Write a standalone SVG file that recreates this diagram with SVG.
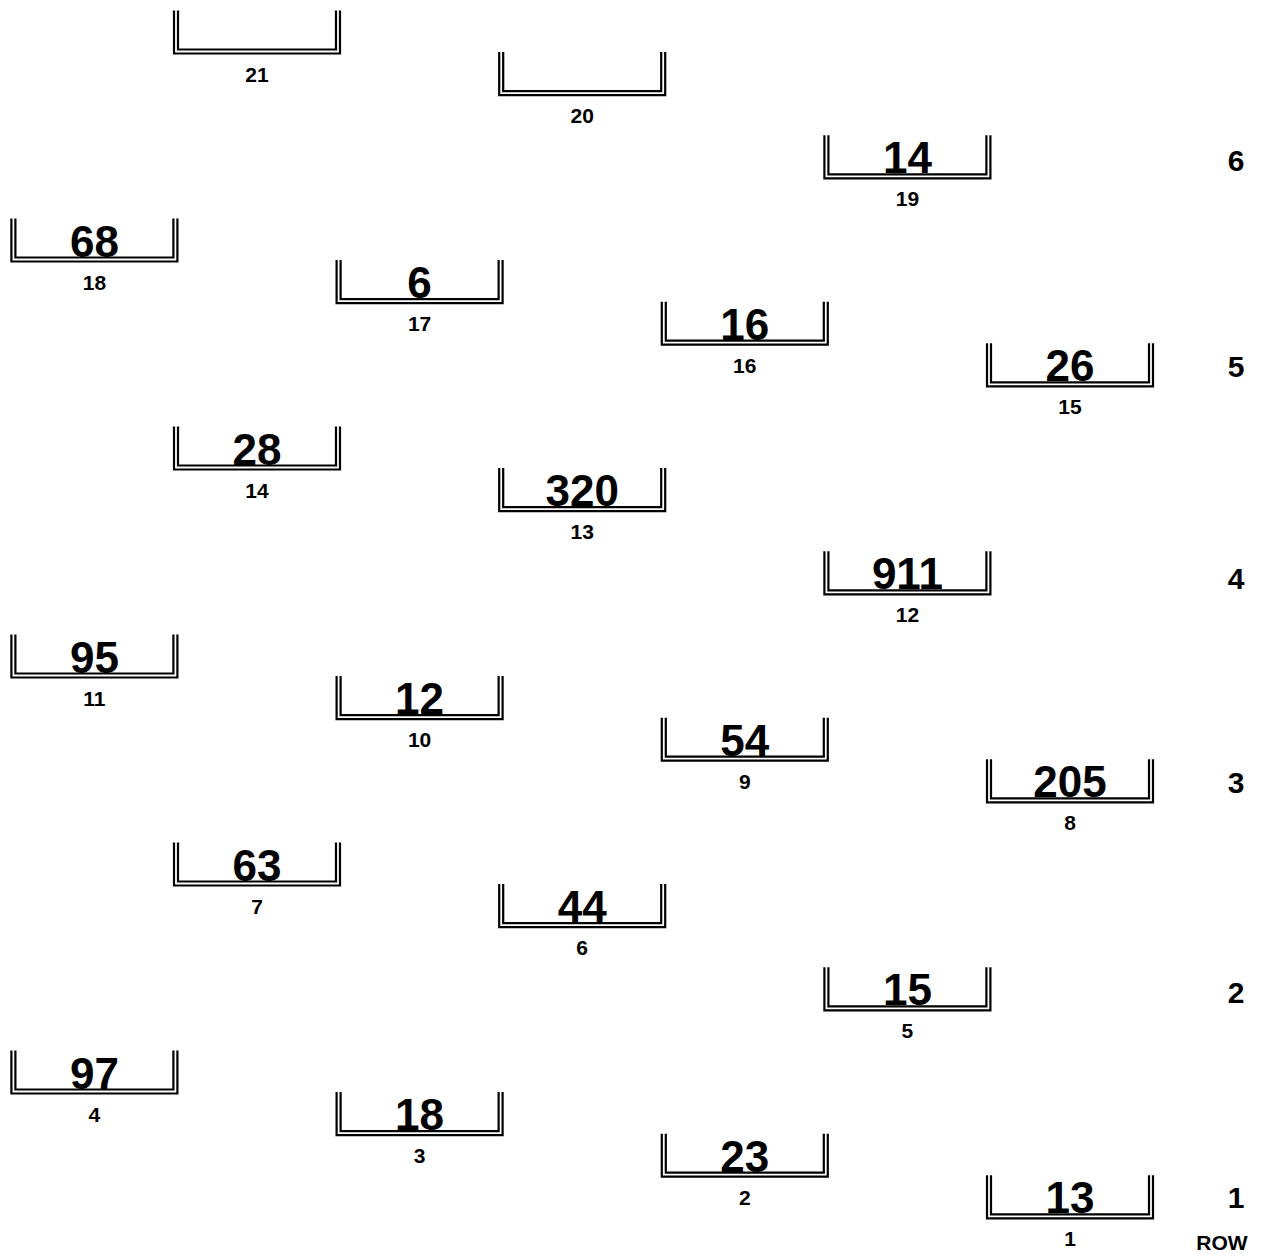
<svg xmlns="http://www.w3.org/2000/svg" width="1262" height="1259" viewBox="0 0 1262 1259">
<defs>
<style>
.frame{fill:none;stroke:#000;stroke-width:2.2;stroke-linejoin:miter;stroke-linecap:butt}
.val{font-family:"Liberation Sans",Arial,Helvetica,sans-serif;font-weight:bold;font-size:44px;text-anchor:middle;fill:#000}
.num{font-family:"Liberation Sans",Arial,Helvetica,sans-serif;font-weight:bold;font-size:21px;text-anchor:middle;fill:#000}
.row{font-family:"Liberation Sans",Arial,Helvetica,sans-serif;font-weight:bold;font-size:30px;text-anchor:middle;fill:#000}
.rowhdr{font-family:"Liberation Sans",Arial,Helvetica,sans-serif;font-weight:bold;font-size:21px;text-anchor:middle;fill:#000}
</style>
<g id="bin">
<path class="frame" d="M0,0 V43 H166 V0"/>
<path class="frame" d="M4,0 V39 H162 V0"/>
</g>
</defs>
<rect width="1262" height="1259" fill="#fff"/>
<g id="connectors"/>
<g id="node-21" transform="translate(174,10.5)"><use href="#bin"/><text class="num" x="83" y="71">21</text></g>
<g id="node-20" transform="translate(499.2,52.1)"><use href="#bin"/><text class="num" x="83" y="71">20</text></g>
<g id="node-19" transform="translate(824.4,135.3)"><use href="#bin"/><text class="val" x="83" y="38">14</text><text class="num" x="83" y="71">19</text></g>
<g id="node-18" transform="translate(11.4,218.5)"><use href="#bin"/><text class="val" x="83" y="38">68</text><text class="num" x="83" y="71">18</text></g>
<g id="node-17" transform="translate(336.6,260.1)"><use href="#bin"/><text class="val" x="83" y="38">6</text><text class="num" x="83" y="71">17</text></g>
<g id="node-16" transform="translate(661.8,301.7)"><use href="#bin"/><text class="val" x="83" y="38">16</text><text class="num" x="83" y="71">16</text></g>
<g id="node-15" transform="translate(987,343.3)"><use href="#bin"/><text class="val" x="83" y="38">26</text><text class="num" x="83" y="71">15</text></g>
<g id="node-14" transform="translate(174,426.5)"><use href="#bin"/><text class="val" x="83" y="38">28</text><text class="num" x="83" y="71">14</text></g>
<g id="node-13" transform="translate(499.2,468.1)"><use href="#bin"/><text class="val" x="83" y="38">320</text><text class="num" x="83" y="71">13</text></g>
<g id="node-12" transform="translate(824.4,551.3)"><use href="#bin"/><text class="val" x="83" y="38">911</text><text class="num" x="83" y="71">12</text></g>
<g id="node-11" transform="translate(11.4,634.5)"><use href="#bin"/><text class="val" x="83" y="38">95</text><text class="num" x="83" y="71">11</text></g>
<g id="node-10" transform="translate(336.6,676.1)"><use href="#bin"/><text class="val" x="83" y="38">12</text><text class="num" x="83" y="71">10</text></g>
<g id="node-9" transform="translate(661.8,717.7)"><use href="#bin"/><text class="val" x="83" y="38">54</text><text class="num" x="83" y="71">9</text></g>
<g id="node-8" transform="translate(987,759.3)"><use href="#bin"/><text class="val" x="83" y="38">205</text><text class="num" x="83" y="71">8</text></g>
<g id="node-7" transform="translate(174,842.5)"><use href="#bin"/><text class="val" x="83" y="38">63</text><text class="num" x="83" y="71">7</text></g>
<g id="node-6" transform="translate(499.2,884.1)"><use href="#bin"/><text class="val" x="83" y="38">44</text><text class="num" x="83" y="71">6</text></g>
<g id="node-5" transform="translate(824.4,967.3)"><use href="#bin"/><text class="val" x="83" y="38">15</text><text class="num" x="83" y="71">5</text></g>
<g id="node-4" transform="translate(11.4,1050.5)"><use href="#bin"/><text class="val" x="83" y="38">97</text><text class="num" x="83" y="71">4</text></g>
<g id="node-3" transform="translate(336.6,1092.1)"><use href="#bin"/><text class="val" x="83" y="38">18</text><text class="num" x="83" y="71">3</text></g>
<g id="node-2" transform="translate(661.8,1133.7)"><use href="#bin"/><text class="val" x="83" y="38">23</text><text class="num" x="83" y="71">2</text></g>
<g id="node-1" transform="translate(987,1175.3)"><use href="#bin"/><text class="val" x="83" y="38">13</text><text class="num" x="83" y="71">1</text></g>
<g id="row-labels">
<text class="row" x="1236" y="171">6</text>
<text class="row" x="1236" y="377">5</text>
<text class="row" x="1236" y="589">4</text>
<text class="row" x="1236" y="793">3</text>
<text class="row" x="1236" y="1003">2</text>
<text class="row" x="1236" y="1208">1</text>
<text class="rowhdr" x="1222" y="1250">ROW</text>
</g>
</svg>
